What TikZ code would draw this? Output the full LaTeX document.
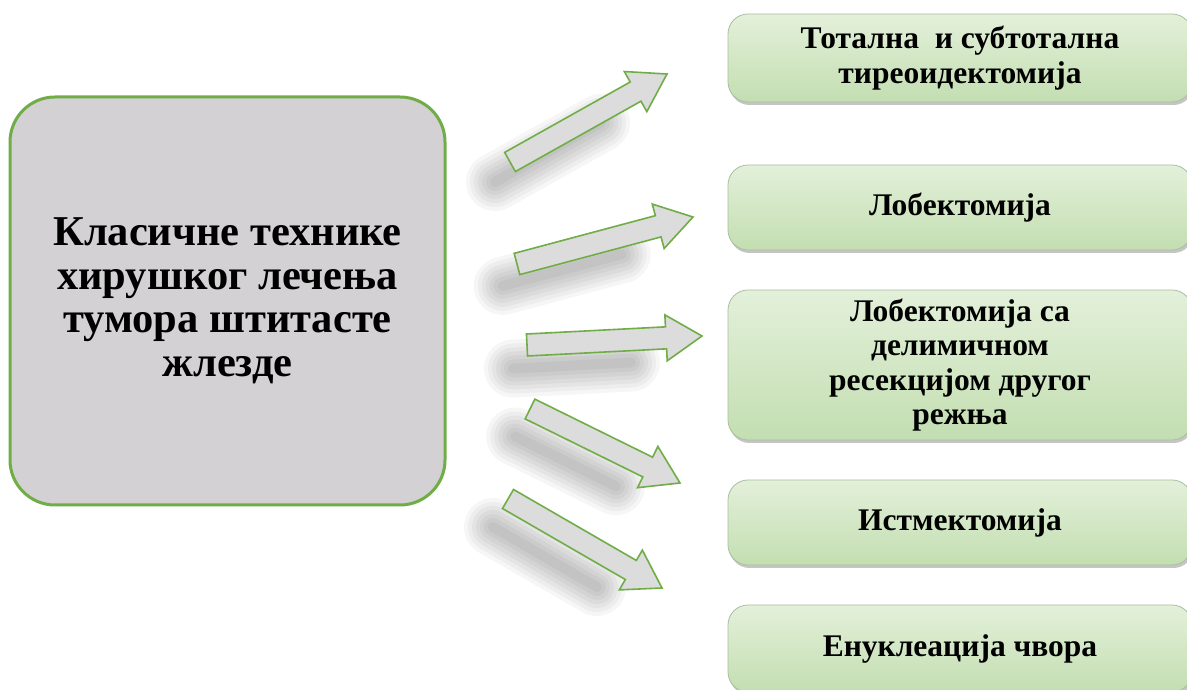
\documentclass[tikz,border=0pt]{standalone}
\usepackage{fontspec}
\setmainfont{Liberation Serif}
\usetikzlibrary{shadows,calc}
\definecolor{grn}{HTML}{70AD47}
\definecolor{boxgray}{HTML}{D3D1D3}
\definecolor{lgtop}{HTML}{E3F0DA}
\definecolor{lgbot}{HTML}{C3DEB1}
\definecolor{lgedge}{HTML}{A9BFA0}
\definecolor{argray}{HTML}{DCDCDC}
\tikzset{
 mainbox/.style={draw=grn, line width=3pt, fill=boxgray, rounded corners=45pt, minimum width=435pt, minimum height=408pt, align=center, font=\bfseries\fontsize{42.5}{43.5}\selectfont, inner sep=0pt},
 leaf/.style={rounded corners=20pt, top color=lgtop, bottom color=lgbot, draw=lgedge, line width=0.8pt, minimum width=464pt, align=center, font=\bfseries\fontsize{31.5}{34.5}\selectfont, inner sep=0pt, drop shadow={shadow xshift=1.5pt, shadow yshift=-3pt, opacity=0.45}},
 barrowstyle/.style={draw=grn, line width=1.6pt, fill=argray, line join=miter},
 ashadow/.style={draw=black, draw opacity=0.035, line cap=round},
}
\newcommand\blockarrow[2]{%
 \path let \p1=(#1), \p2=(#2), \n1={atan2(\y2-\y1,\x2-\x1)}, \n2={veclen(\x2-\x1,\y2-\y1)} in \pgfextra{\xdef\barang{\n1}\xdef\barlen{\n2}};
 \begin{scope}[shift={($(#1)+(-22,-24)$)}, rotate=\barang]
  \foreach \w in {58,50,42,34,26,18,10}
   \draw[ashadow, line width=\w pt] (8,0) -- (0.72*\barlen,0);
 \end{scope}
 \begin{scope}[shift={(#1)}, rotate=\barang]
  \draw[barrowstyle] (0,-11) -- (\barlen-36,-11) -- (\barlen-36,-23) -- (\barlen,0) -- (\barlen-36,23) -- (\barlen-36,11) -- (0,11) -- cycle;
 \end{scope}}
\begin{document}
\begin{tikzpicture}[x=1pt,y=1pt]
\clip (0,0) rectangle (1187,690);
\fill[white] (0,0) rectangle (1187,690);

\node[mainbox] (main) at (227.5,389) {Класичне технике\\хирушког лечења\\тумора штитасте\\жлезде};

\node[leaf, minimum height=88pt] (r1) at (960,632) {Тотална \ и субтотална\\тиреоидектомија};
\node[leaf, minimum height=85pt] (r2) at (960,482.5) {Лобектомија};
\node[leaf, minimum height=150pt] (r3) at (960,325) {Лобектомија са\\делимичном\\ресекцијом другог\\режња};
\node[leaf, minimum height=85pt] (r4) at (960,167.5) {Истмектомија};
\node[leaf, minimum height=87pt] (r5) at (960,41.5) {Енуклеација чвора};

\coordinate (a1s) at (510,528);
\coordinate (a1e) at (667,616);
\coordinate (a2s) at (517,426);
\coordinate (a2e) at (693,473);
\coordinate (a3s) at (527,345);
\coordinate (a3e) at (702,354);
\coordinate (a4s) at (530,281);
\coordinate (a4e) at (680,207);
\coordinate (a5s) at (508,191);
\coordinate (a5e) at (662,102);

\blockarrow{a1s}{a1e}
\blockarrow{a2s}{a2e}
\blockarrow{a3s}{a3e}
\blockarrow{a4s}{a4e}
\blockarrow{a5s}{a5e}
\end{tikzpicture}
\end{document}
